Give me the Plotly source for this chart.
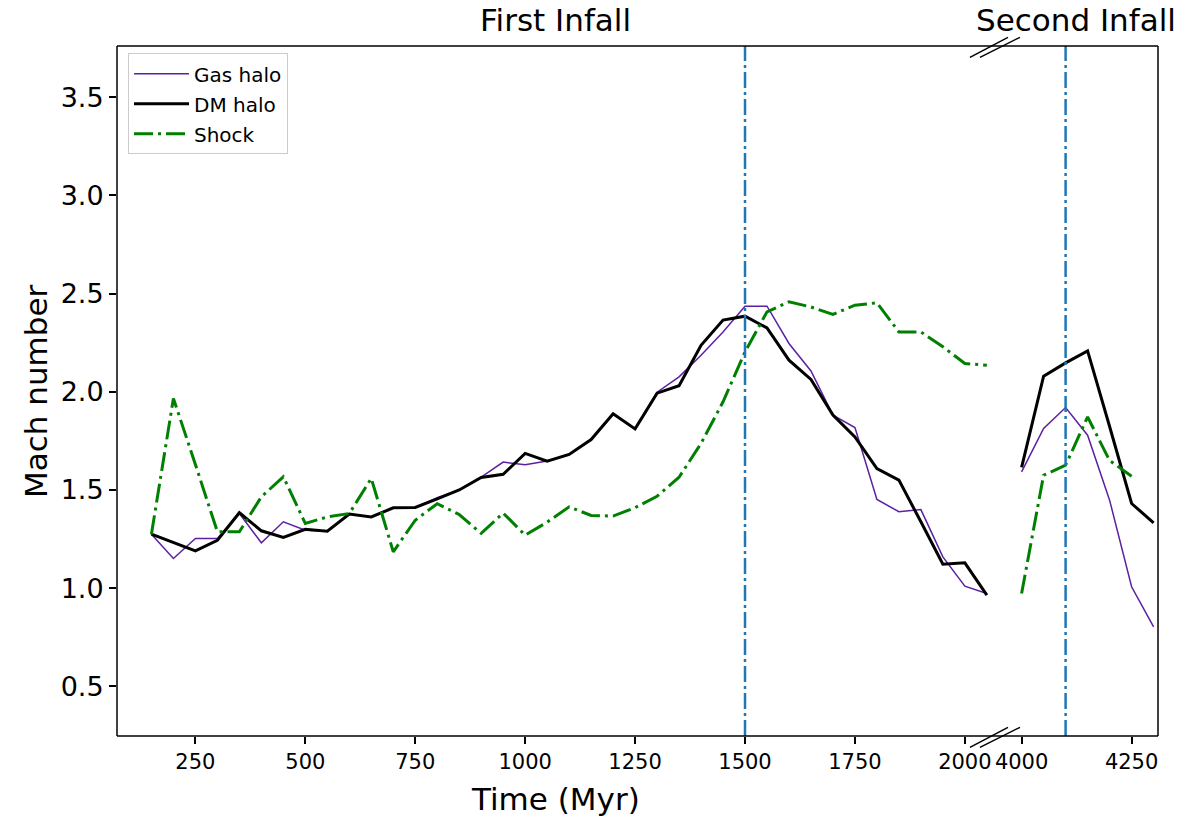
import plotly.graph_objects as go

# ---- data ----
t_left = [150, 200, 250, 300, 350, 400, 450, 500, 550, 600, 650, 700, 750, 800,
          850, 900, 950, 1000, 1050, 1100, 1150, 1200, 1250, 1300, 1350, 1400,
          1450, 1500, 1550, 1600, 1650, 1700, 1750, 1800, 1850, 1900, 1950, 2000, 2050]
gas_left = [1.275, 1.151, 1.253, 1.253, 1.38, 1.231, 1.338, 1.295, 1.29, 1.377, 1.363,
            1.409, 1.411, 1.46, 1.50, 1.565, 1.642, 1.628, 1.647, 1.681, 1.757, 1.886,
            1.811, 1.998, 2.076, 2.186, 2.305, 2.436, 2.436, 2.246, 2.106, 1.881, 1.818,
            1.452, 1.389, 1.40, 1.159, 1.01, 0.973]
dm_left = [1.275, 1.232, 1.19, 1.244, 1.384, 1.292, 1.258, 1.30, 1.29, 1.377, 1.363,
           1.409, 1.411, 1.455, 1.50, 1.564, 1.58, 1.686, 1.647, 1.681, 1.757, 1.888,
           1.811, 1.993, 2.031, 2.237, 2.365, 2.385, 2.325, 2.161, 2.063, 1.881, 1.770,
           1.609, 1.55, 1.338, 1.122, 1.129, 0.964]
shock_left = [1.275, 1.966, 1.63, 1.287, 1.287, 1.465, 1.567, 1.329, 1.363, 1.38, 1.559,
              1.185, 1.346, 1.43, 1.375, 1.279, 1.382, 1.27, 1.336, 1.414, 1.37, 1.367,
              1.41, 1.468, 1.565, 1.737, 1.949, 2.203, 2.407, 2.458, 2.432, 2.394, 2.441,
              2.453, 2.305, 2.305, 2.229, 2.144, 2.135]

t_right = [4000, 4050, 4100, 4150, 4200, 4250, 4300]
gas_right = [1.592, 1.813, 1.92, 1.779, 1.448, 1.007, 0.803]
dm_right = [1.615, 2.079, 2.147, 2.208, 1.823, 1.431, 1.333]
t_shock_right = [4000, 4050, 4100, 4150, 4200, 4250]
shock_right = [0.973, 1.575, 1.626, 1.872, 1.65, 1.57]

infall_times = [1500, 4100]
panel_titles = ["First Infall", "Second Infall"]

left_ticks = [250, 500, 750, 1000, 1250, 1500, 1750, 2000]
right_ticks = [4000, 4250]
y_ticks = [0.5, 1.0, 1.5, 2.0, 2.5, 3.0, 3.5]

# ---- style ----
PURPLE = "#5b21a0"
GREEN = "#008000"
BLUE = "#1f77b4"
FONT = "DejaVu Sans"
SPLIT = 0.8415
GREEN_DASH = "19px,5px,3px,5px"
BLUE_DASH = "16px,4px,3px,4px"

fig = go.Figure()

fig.add_trace(go.Scatter(x=t_left, y=gas_left, mode="lines", name="Gas halo",
                         legendgroup="g", line=dict(color=PURPLE, width=1.5),
                         xaxis="x", yaxis="y"))
fig.add_trace(go.Scatter(x=t_left, y=dm_left, mode="lines", name="DM halo",
                         legendgroup="d", line=dict(color="black", width=3),
                         xaxis="x", yaxis="y"))
fig.add_trace(go.Scatter(x=t_left, y=shock_left, mode="lines", name="Shock",
                         legendgroup="s", line=dict(color=GREEN, width=3, dash=GREEN_DASH),
                         xaxis="x", yaxis="y"))

fig.add_trace(go.Scatter(x=t_right, y=gas_right, mode="lines", name="Gas halo",
                         legendgroup="g", showlegend=False,
                         line=dict(color=PURPLE, width=1.5), xaxis="x2", yaxis="y"))
fig.add_trace(go.Scatter(x=t_right, y=dm_right, mode="lines", name="DM halo",
                         legendgroup="d", showlegend=False,
                         line=dict(color="black", width=3), xaxis="x2", yaxis="y"))
fig.add_trace(go.Scatter(x=t_shock_right, y=shock_right, mode="lines", name="Shock",
                         legendgroup="s", showlegend=False,
                         line=dict(color=GREEN, width=3, dash=GREEN_DASH),
                         xaxis="x2", yaxis="y"))

shapes = []
# vertical infall lines
shapes.append(dict(type="line", xref="x", yref="paper", x0=infall_times[0], x1=infall_times[0],
                   y0=0, y1=1, line=dict(color=BLUE, width=2.5, dash=BLUE_DASH)))
shapes.append(dict(type="line", xref="x2", yref="paper", x0=infall_times[1], x1=infall_times[1],
                   y0=0, y1=1, line=dict(color=BLUE, width=2.5, dash=BLUE_DASH)))
# frame
frame = dict(color="black", width=1.5)
shapes.append(dict(type="line", xref="paper", yref="paper", x0=0, x1=1, y0=1, y1=1, line=frame))
shapes.append(dict(type="line", xref="paper", yref="paper", x0=0, x1=1, y0=0, y1=0, line=frame))
shapes.append(dict(type="line", xref="paper", yref="paper", x0=0, x1=0, y0=0, y1=1, line=frame))
shapes.append(dict(type="line", xref="paper", yref="paper", x0=1, x1=1, y0=0, y1=1, line=frame))

# break marks (pixel positions converted to paper coords)
W, H = 1040.7, 690.0
L, T = 117.3, 45.7
def px(xp):
    return (xp - L) / W
def py(yp):
    return 1 - (yp - T) / H
for (xa, xb) in [(970, 1008), (980, 1020)]:
    for yc in [47, 737]:
        shapes.append(dict(type="line", xref="paper", yref="paper",
                           x0=px(xa), x1=px(xb), y0=py(yc + 10), y1=py(yc - 10),
                           line=dict(color="black", width=1.5)))

annotations = [
    dict(text=panel_titles[0], xref="paper", yref="paper", x=SPLIT / 2, y=py(20),
         showarrow=False, xanchor="center", yanchor="middle",
         font=dict(family=FONT, size=31, color="black")),
    dict(text=panel_titles[1], xref="paper", yref="paper", x=(1 + SPLIT) / 2, y=py(20),
         showarrow=False, xanchor="center", yanchor="middle",
         font=dict(family=FONT, size=31, color="black")),
    dict(text="Time (Myr)", xref="paper", yref="paper", x=SPLIT / 2, y=py(799),
         showarrow=False, xanchor="center", yanchor="middle",
         font=dict(family=FONT, size=31, color="black")),
    dict(text="Mach number", xref="paper", yref="paper", x=px(37), y=py(391),
         showarrow=False, xanchor="center", yanchor="middle", textangle=-90,
         font=dict(family=FONT, size=31, color="black")),
]

fig.update_layout(
    width=1204, height=817,
    margin=dict(l=117, r=46, t=46, b=81),
    paper_bgcolor="white", plot_bgcolor="white",
    font=dict(family=FONT, color="black"),
    shapes=shapes, annotations=annotations,
    xaxis=dict(domain=[0, SPLIT], range=[71.7, 2064], anchor="y",
               tickvals=left_ticks, ticktext=[str(v) for v in left_ticks],
               ticks="outside", ticklen=7, tickwidth=1.5, tickcolor="black",
               showgrid=False, zeroline=False, showline=False,
               tickfont=dict(family=FONT, size=21, color="black")),
    xaxis2=dict(domain=[SPLIT, 1], range=[3935, 4310], anchor="y",
                tickvals=right_ticks, ticktext=[str(v) for v in right_ticks],
                ticks="outside", ticklen=7, tickwidth=1.5, tickcolor="black",
                showgrid=False, zeroline=False, showline=False,
                tickfont=dict(family=FONT, size=21, color="black")),
    yaxis=dict(domain=[0, 1], range=[0.247, 3.761], anchor="x",
               tickvals=y_ticks, ticktext=["%.1f" % v for v in y_ticks],
               ticks="outside", ticklen=7, tickwidth=1.5, tickcolor="black",
               showgrid=False, zeroline=False, showline=False,
               tickfont=dict(family=FONT, size=27, color="black")),
    legend=dict(x=px(128.3), y=py(53), xanchor="left", yanchor="top",
                bgcolor="rgba(255,255,255,0.8)", bordercolor="#cccccc", borderwidth=1,
                font=dict(family=FONT, size=20, color="black"),
                tracegroupgap=1, itemwidth=55),
    showlegend=True,
)

fig.write_html("out.html", config={"displayModeBar": False},
               post_script="document.body.style.margin='0px';")
